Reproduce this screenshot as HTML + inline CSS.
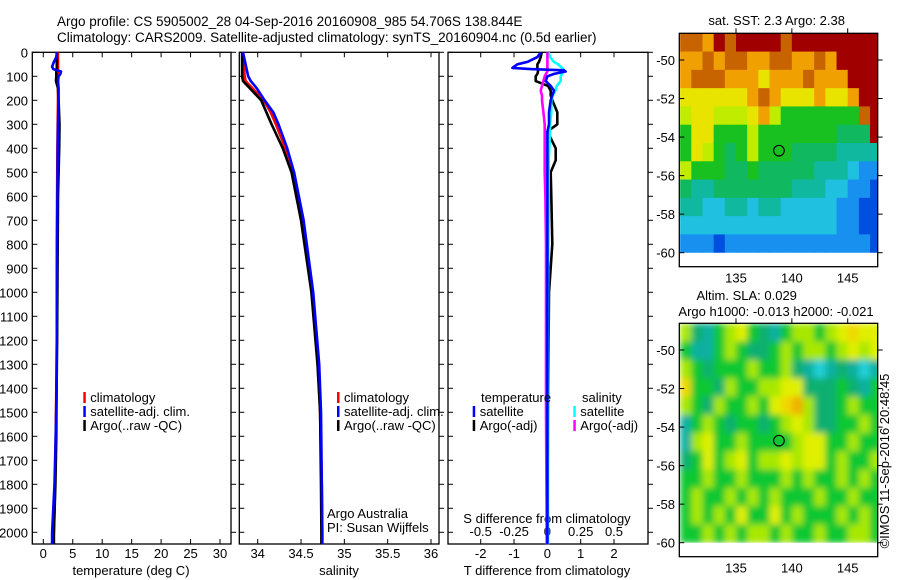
<!DOCTYPE html>
<html><head><meta charset="utf-8">
<style>
html,body{margin:0;padding:0;background:#fff;}
svg{display:block;font-family:"Liberation Sans",sans-serif;}
text{font-size:13px;fill:#000;}
</style></head>
<body>
<svg id="fig" width="900" height="580" viewBox="0 0 900 580" xmlns="http://www.w3.org/2000/svg">
<defs>
<clipPath id="clipSST"><rect x="679.3" y="33.3" width="198.4" height="219.4"/></clipPath>
<clipPath id="clipSLA"><rect x="679.3" y="323.3" width="198.4" height="219.4"/></clipPath>
<filter id="blurSLA" x="0" y="0" width="1" height="1"><feGaussianBlur stdDeviation="3.2" edgeMode="duplicate"/></filter>
</defs>
<text x="57" y="26" style="font-size:13.5px">Argo profile: CS 5905002_28 04-Sep-2016 20160908_985 54.706S 138.844E</text>
<text x="57" y="42" style="font-size:13.5px">Climatology: CARS2009. Satellite-adjusted climatology: synTS_20160904.nc (0.5d earlier)</text>
<g id="g1"></g>
<g id="g2"></g>
<g id="g3"></g>
<g id="g4"></g>
<g id="g5"></g>
<text x="0" y="0" transform="translate(889,461) rotate(-90)" text-anchor="middle">©IMOS 11-Sep-2016 20:48:45</text>
</svg>
<script>
// ---- profile data ----
const depthT = [0,20,40,60,70,80,90,100,120,150,200,300,400,600,800,1000,1200,1400,1600,1800,2000,2050];
const tempClim = [2.5,2.5,2.5,2.5,2.5,2.5,2.5,2.5,2.5,2.5,2.5,2.45,2.4,2.35,2.3,2.3,2.3,2.2,2.1,2.0,1.8,1.7];
const tempSat  = [2.3,2.2,1.8,1.5,1.7,3.0,2.9,2.6,2.5,2.6,2.6,2.5,2.45,2.4,2.35,2.3,2.3,2.25,2.1,1.9,1.5,1.5];
const tempArgo = [2.3,2.3,2.3,2.3,2.3,2.2,2.2,2.2,2.15,2.5,2.6,2.75,2.7,2.5,2.45,2.4,2.35,2.25,2.2,2.05,1.8,1.8];
const depthS = [0,50,100,120,150,200,250,300,400,500,700,1000,1300,1500,1800,2000,2050];
const salClim = [33.83,33.84,33.85,33.86,33.94,34.07,34.15,34.21,34.32,34.4,34.52,34.63,34.7,34.72,34.74,34.745,34.745];
const salSat  = [33.83,33.86,33.89,33.92,33.99,34.08,34.18,34.24,34.34,34.42,34.53,34.64,34.71,34.73,34.74,34.745,34.745];
const salArgo = [33.82,33.82,33.82,33.83,33.91,34.04,34.1,34.16,34.29,34.39,34.5,34.62,34.69,34.72,34.73,34.735,34.735];
const depthD = [0,20,40,50,60,65,70,75,80,90,100,120,140,160,180,200,250,300,330,400,450,500,600,800,1000,1500,2000,2050];
const tdiffSat  = [-0.2,-0.3,-0.6,-0.9,-1.0,-1.05,-0.5,0.5,0.55,0.2,0.0,-0.05,0.1,0.2,0.15,0.1,0.05,0.05,0.0,0.0,0,0,0,0,0,0,0,0];
const tdiffArgo = [-0.17,-0.2,-0.25,-0.3,-0.3,-0.3,-0.3,-0.28,-0.28,-0.3,-0.35,-0.35,0.02,0.1,0.1,0.15,0.3,0.3,0.0,0.25,0.25,0.1,0.12,0.15,0.05,0.02,0.0,0.0];
const sdiffSat  = [0.01,0.02,0.05,0.08,0.1,0.11,0.12,0.12,0.12,0.11,0.1,0.1,0.07,0.06,0.04,0.03,0.03,0.02,0.02,0.015,0.01,0.01,0.01,0.008,0.005,0.005,0.005,0.005];
const sdiffArgo = [0.0,0.0,0.0,0.0,0.0,0.0,0.0,0.0,0.0,-0.01,-0.02,-0.03,-0.04,-0.05,-0.04,-0.04,-0.03,-0.02,-0.02,-0.02,-0.02,-0.02,-0.015,-0.01,-0.01,-0.01,-0.005,-0.005];
const depthTicks = [0,100,200,300,400,500,600,700,800,900,1000,1100,1200,1300,1400,1500,1600,1700,1800,1900,2000];
const tempTicks = [0,5,10,15,20,25,30];
const salTicks = [34,34.5,35,35.5,36];
const tdTicks = [-2,-1,0,1,2];
const sdTickLabels = ["-0.5","-0.25","0","0.25","0.5"];
const sdTicks = [-0.5,-0.25,0,0.25,0.5];
const latTicks = [-50,-52,-54,-56,-58,-60];
const lonTicks = [135,140,145];
// map grids: 12 rows (lat -48.6 .. -60), 18 cols (lon 130 .. 148)
const sstGrid = [
[10,10,9,11,10,11,11,11,11,10,11,11,11,11,11,11,11,11],
[9,9,10,9,10,10,9,9,10,10,9,9,10,9,11,11,11,11],
[9,10,10,10,9,9,9,8,9,9,9,10,9,9,9,11,11,11],
[8,8,8,8,8,8,9,10,9,8,8,8,9,8,8,9,11,11],
[7,8,8,7,7,7,8,9,7,6,6,6,6,6,6,6,10,11],
[6,8,8,6,6,6,7,6,6,6,6,6,6,6,5,5,5,11],
[6,8,7,6,5,6,7,6,6,6,5,5,5,5,4,4,4,4],
[7,6,6,6,5,5,6,5,5,5,5,5,4,4,4,3,2,2],
[5,4,4,5,5,5,5,5,5,5,4,4,4,3,3,2,2,1],
[4,4,3,3,4,4,3,4,4,3,3,3,3,3,2,2,1,1],
[3,3,3,3,3,3,3,3,3,3,3,3,3,3,2,2,1,1],
[2,2,2,1,2,2,2,2,2,2,2,2,2,2,2,2,2,1]];
const slaGrid = [
[4,2,1,3,4,5,3,2,1,3,4,4,3,4,5,6,5,5],
[3,1,1,3,4,3,2,2,3,4,3,4,4,3,4,5,4,5],
[4,3,2,3,3,3,4,3,3,4,2,1,0,1,2,1,0,1],
[6,3,3,2,4,3,3,4,4,5,5,2,2,2,3,2,1,3],
[4,3,2,4,3,3,4,3,5,6,7,4,2,2,3,4,3,3],
[1,3,4,3,2,3,3,2,3,4,5,4,2,2,3,3,4,3],
[1,4,5,3,3,4,3,3,3,3,4,5,5,3,3,4,3,3],
[2,3,5,3,4,5,3,4,4,5,4,5,5,3,4,3,3,4],
[3,3,4,3,3,4,3,3,3,4,3,4,3,3,4,3,4,3],
[3,4,3,3,4,3,4,3,4,3,3,3,4,3,3,4,3,3],
[3,4,3,4,3,5,3,3,5,3,4,3,3,3,4,3,4,3],
[3,3,4,3,4,3,4,4,3,4,3,3,4,3,3,4,4,3]];
const sstColors = ["#0018b0","#0050e0","#1890f0","#20c0e0","#10b8a0","#10b860","#18c020","#c0ec00","#e8e400","#f0a000","#c86400","#a00000"];
const slaColors = ["#20d0d8","#10b0a0","#10b070","#10c830","#a8e800","#e0f000","#f0d800","#f0b000"];
const latEnd = -60, lonStart = 130, lonEnd = 148;

const NS="http://www.w3.org/2000/svg";
function mk(parent,tag,attrs,txt){const e=document.createElementNS(NS,tag);for(const k in attrs)e.setAttribute(k,attrs[k]);if(txt!==undefined)e.textContent=txt;parent.appendChild(e);return e;}

const yTop=52.3, yBot=544, px100=24;
function yD(d){return yTop + d*px100/100;}
function lin(v0,p0,v1,p1){return v=>p0+(v-v0)*(p1-p0)/(v1-v0);}
const xT=lin(0,43.3,30,220);
const xS=lin(34,257.7,36,431);
const xTD=lin(-2,480.7,2,614);
const xSD=v=>xTD(v*4);

function frame(g,x0,x1,name){
  const r=mk(g,'rect',{x:x0,y:yTop,width:x1-x0,height:yBot-yTop,fill:'none',stroke:'#000','stroke-width':1.3});
  
  
  depthTicks.forEach(d=>{
    const t=mk(g,'line',{x1:x0,x2:x0+5,y1:yD(d),y2:yD(d),stroke:'#000'});
    
    
    const t2=mk(g,'line',{x1:x1,x2:x1+5,y1:yD(d),y2:yD(d),stroke:'#000'});
    
    
  });
}
function xticks(g,vals,fx,labels,ly){
  vals.forEach((v,i)=>{
    const x=fx(v);
    mk(g,'line',{x1:x,x2:x,y1:yTop,y2:yTop+5,stroke:'#000'});
    mk(g,'line',{x1:x,x2:x,y1:yBot,y2:yBot-5,stroke:'#000'});
    if(labels){const t=mk(g,'text',{x:x,y:ly,'text-anchor':'middle'},labels[i]);
      
      }
  });
}
function line(g,xs,ds,fx,color,name,w){
  const pts=xs.map((v,i)=>fx(v).toFixed(1)+','+yD(ds[i]).toFixed(1)).join(' ');
  const p=mk(g,'polyline',{points:pts,fill:'none',stroke:color,'stroke-width':w||2.6,'stroke-linejoin':'round'});
  
  
}
function legend(g,x,y,color,label){
  mk(g,'rect',{x:x,y:y-10,width:2.5,height:11,fill:color});
  const t=mk(g,'text',{x:x+7,y:y},label);
  
  
}

// Panel 1 temperature
const g1=document.getElementById('g1');
frame(g1,32.3,231,'temperature');
depthTicks.forEach(d=>{const t=mk(g1,'text',{x:28,y:yD(d)+5,'text-anchor':'end'},String(d));
  
  });
xticks(g1,tempTicks,xT,tempTicks.map(String),558);
const xt1=mk(g1,'text',{x:131,y:575,'text-anchor':'middle'},'temperature (deg C)');


line(g1,tempClim,depthT,xT,'#f00','temp-climatology-line');
line(g1,tempArgo,depthT,xT,'#000','temp-argo-line');
line(g1,tempSat,depthT,xT,'#00f','temp-satellite-line');
legend(g1,83.3,402,'#f00','climatology');
legend(g1,83.3,416,'#00f','satellite-adj. clim.');
legend(g1,83.3,430,'#000','Argo(..raw -QC)');

// Panel 2 salinity
const g2=document.getElementById('g2');
frame(g2,239.3,439,'salinity');
xticks(g2,salTicks,xS,salTicks.map(String),558);
const xt2=mk(g2,'text',{x:339,y:575,'text-anchor':'middle'},'salinity');


line(g2,salClim,depthS,xS,'#f00','sal-climatology-line');
line(g2,salArgo,depthS,xS,'#000','sal-argo-line');
line(g2,salSat,depthS,xS,'#00f','sal-satellite-line');
legend(g2,337,402,'#f00','climatology');
legend(g2,337,416,'#00f','satellite-adj. clim.');
legend(g2,337,430,'#000','Argo(..raw -QC)');
const aa=mk(g2,'text',{x:327,y:518},'Argo Australia');


const pi=mk(g2,'text',{x:327,y:532},'PI: Susan Wijffels');



// Panel 3 differences
const g3=document.getElementById('g3');
frame(g3,448,648,'difference');
xticks(g3,tdTicks,xTD,tdTicks.map(String),558);
sdTicks.forEach((v,i)=>{const t=mk(g3,'text',{x:xSD(v),y:536,'text-anchor':'middle'},sdTickLabels[i]);
  
  });
const st=mk(g3,'text',{x:547,y:523,'text-anchor':'middle'},'S difference from climatology');


const tt=mk(g3,'text',{x:547,y:575,'text-anchor':'middle'},'T difference from climatology');


line(g3,tdiffArgo,depthD,xTD,'#000','t-diff-argo-line');
line(g3,sdiffSat,depthD,xSD,'#0ff','s-diff-satellite-line');
line(g3,sdiffArgo,depthD,xSD,'#f0f','s-diff-argo-line');
line(g3,tdiffSat,depthD,xTD,'#00f','t-diff-satellite-line');
const lt=mk(g3,'text',{x:481,y:402},'temperature');


const ls=mk(g3,'text',{x:582,y:402},'salinity');


legend(g3,472.7,416,'#00f','satellite');
legend(g3,472.7,430,'#000','Argo(-adj)');
legend(g3,573.3,416,'#0ff','satellite');
legend(g3,573.3,430,'#f0f','Argo(-adj)');

// Maps
function drawMap(g,grid,colors,yTopF,yMinus50,yMinus60,clipId,blur,name){
  const pxLat=(yMinus60-yMinus50)/10;
  const yLat=lat=>yMinus50+(-50-lat)*pxLat;
  const xLon=lin(135,736,145,847.7);
  const fx0=679.3, fx1=877.7;
  const holder=mk(g,'g',{'clip-path':'url(#'+clipId+')'});
  const cells=mk(holder,'g',blur?{filter:'url(#blurSLA)'}:{});
  const rows=grid.length, cols=grid[0].length;
  const lt0=-50+(yMinus50-yTopF)/pxLat;
  const dLat=(lt0-latEnd)/rows, dLon=(lonEnd-lonStart)/cols;
  grid.forEach((row,i)=>row.forEach((v,j)=>{
    const x=xLon(lonStart+j*dLon), y=yLat(lt0-i*dLat);
    const r=mk(cells,'rect',{x:x.toFixed(2),y:y.toFixed(2),width:(xLon(lonStart+(j+1)*dLon)-x+0.6).toFixed(2),height:(yLat(lt0-(i+1)*dLat)-y+0.6).toFixed(2),fill:colors[v]});
    
    
  }));
  const fr=mk(g,'rect',{x:fx0,y:yTopF,width:fx1-fx0,height:233.4,fill:'none',stroke:'#000','stroke-width':1.3});
  
  
  const yb=yTopF+233.4;
  latTicks.forEach(l=>{const y=yLat(l);
    mk(g,'line',{x1:fx0,x2:fx0+5,y1:y,y2:y,stroke:'#000'});
    mk(g,'line',{x1:fx1,x2:fx1+5,y1:y,y2:y,stroke:'#000'});
    const t=mk(g,'text',{x:675,y:y+5,'text-anchor':'end'},String(l));
    
    });
  lonTicks.forEach(l=>{const x=xLon(l);
    mk(g,'line',{x1:x,x2:x,y1:yTopF,y2:yTopF-5,stroke:'#000'});
    const t=mk(g,'text',{x:x,y:yb+16,'text-anchor':'middle'},String(l));
    
    });
  const c=mk(g,'circle',{cx:xLon(138.844),cy:yLat(-54.706),r:5.3,fill:'none',stroke:'#000','stroke-width':1.1});
  
  
}
const g4=document.getElementById('g4');
drawMap(g4,sstGrid,sstColors,33.3,60,252.7,'clipSST',false,'sst-map');
const t4=mk(g4,'text',{x:776.7,y:25,'text-anchor':'middle'},'sat. SST: 2.3 Argo: 2.38');


const g5=document.getElementById('g5');
drawMap(g5,slaGrid,slaColors,323.3,350,542.7,'clipSLA',true,'sla-map');
const t5=mk(g5,'text',{x:746.7,y:300,'text-anchor':'middle'},'Altim. SLA: 0.029');


const t6=mk(g5,'text',{x:776,y:316,'text-anchor':'middle'},'Argo h1000: -0.013 h2000: -0.021');


</script>
</body></html>
